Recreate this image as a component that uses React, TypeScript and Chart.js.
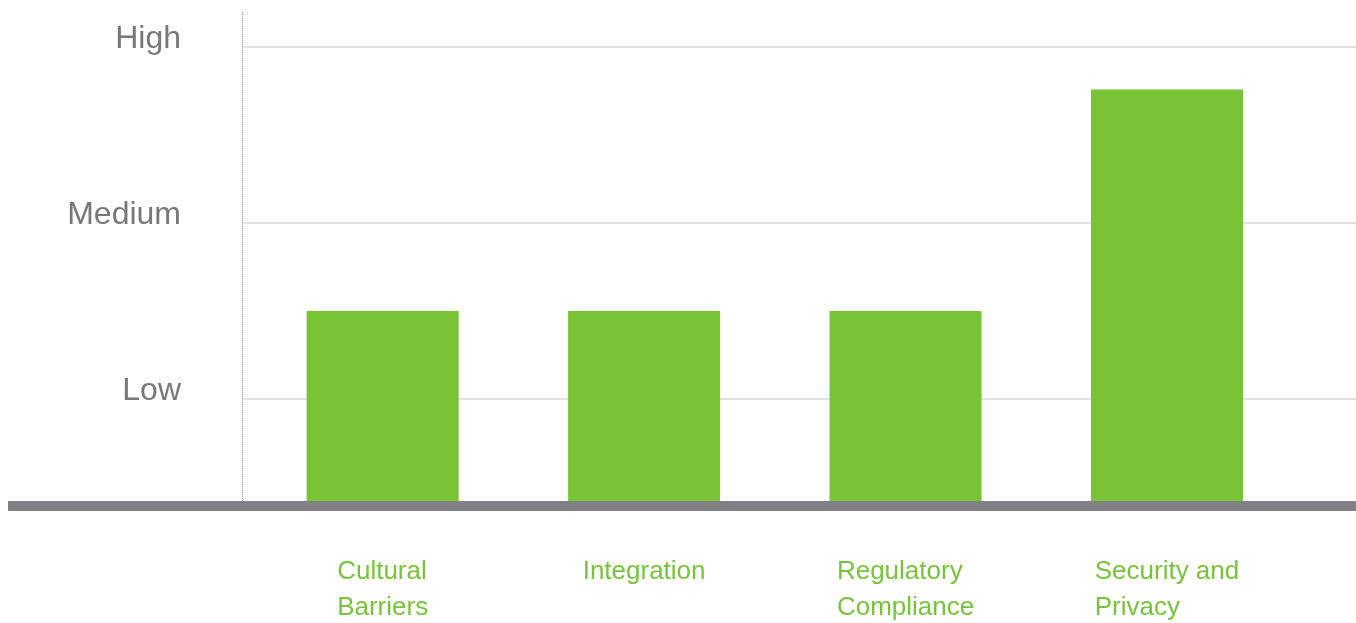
import React, { useEffect, useRef } from "react";
import { Chart, registerables } from "chart.js";

Chart.register(...registerables);

const categories: string[][] = [
  ["Cultural", "Barriers"],
  ["Integration"],
  ["Regulatory", "Compliance"],
  ["Security and", "Privacy"],
];
const values: number[] = [1.5, 1.5, 1.5, 2.76];
const yTickValues: number[] = [1, 2, 3];
const yTickLabels: string[] = ["Low", "Medium", "High"];

const FONT = "'Liberation Sans', Arial, Helvetica, sans-serif";
const GREEN = "#78c434";
const LABEL_GREEN = "#77c43a";

const decorPlugin = {
  id: "decor",
  beforeDatasetsDraw(chart: any) {
    const { ctx, chartArea } = chart;
    // dotted vertical axis line
    ctx.save();
    ctx.strokeStyle = "#9a9a9a";
    ctx.lineWidth = 1;
    ctx.setLineDash([1, 1]);
    ctx.beginPath();
    ctx.moveTo(Math.round(chartArea.left) + 0.5, chartArea.top);
    ctx.lineTo(Math.round(chartArea.left) + 0.5, chartArea.bottom);
    ctx.stroke();
    ctx.restore();
  },
  afterDatasetsDraw(chart: any) {
    const { ctx, chartArea } = chart;
    const xScale = chart.scales.x;
    ctx.save();
    // thick baseline
    ctx.fillStyle = "#818185";
    ctx.fillRect(0, chartArea.bottom, chart.width, 10);
    // category labels: block centred, lines left-aligned
    ctx.font = `26px ${FONT}`;
    ctx.fillStyle = LABEL_GREEN;
    ctx.textAlign = "left";
    ctx.textBaseline = "alphabetic";
    categories.forEach((lines, i) => {
      const cx = xScale.getPixelForValue(i);
      const w = Math.max(...lines.map((l) => ctx.measureText(l).width));
      const x0 = cx - w / 2;
      lines.forEach((line, j) => {
        ctx.fillText(line, x0, chartArea.bottom + 78 + j * 36);
      });
    });
    ctx.restore();
  },
};

export default function App() {
  const canvasRef = useRef<HTMLCanvasElement | null>(null);

  useEffect(() => {
    if (!canvasRef.current) return;
    const chart = new Chart(canvasRef.current, {
      type: "bar",
      data: {
        datasets: [
          {
            data: values.map((v, i) => ({ x: i, y: v })),
            backgroundColor: GREEN,
            borderWidth: 0,
            categoryPercentage: 1,
            barPercentage: 0.5815,
          },
        ],
      },
      plugins: [decorPlugin],
      options: {
        animation: false,
        responsive: true,
        maintainAspectRatio: false,
        layout: { padding: { top: 12, left: 0, right: 0, bottom: 0 } },
        plugins: {
          legend: { display: false },
          tooltip: { enabled: false },
        },
        scales: {
          x: {
            type: "linear",
            min: -0.538,
            max: 3.723,
            offset: false,
            grid: { display: false, offset: false },
            border: { display: false },
            ticks: { display: false },
            afterBuildTicks: (scale: any) => {
              scale.ticks = categories.map((_, i) => ({ value: i }));
            },
            afterFit: (scale: any) => {
              scale.height = 122;
              scale.paddingLeft = 0;
              scale.paddingRight = 0;
            },
          },
          y: {
            min: 0.42,
            max: 3.2,
            afterBuildTicks: (scale: any) => {
              scale.ticks = yTickValues.map((v) => ({ value: v }));
            },
            afterFit: (scale: any) => {
              scale.width = 234;
              scale.paddingTop = 0;
              scale.paddingBottom = 0;
            },
            grid: {
              color: "#e1e1e1",
              lineWidth: 2,
              drawTicks: false,
            },
            border: { display: false },
            ticks: {
              padding: 61,
              labelOffset: -8,
              color: "#77787b",
              font: { family: FONT, size: 32 },
              callback: (value: any) => {
                const idx = yTickValues.indexOf(Number(value));
                return idx >= 0 ? yTickLabels[idx] : "";
              },
            },
          },
        },
      },
    } as any);
    return () => chart.destroy();
  }, []);

  return (
    <div
      style={{
        position: "fixed",
        left: 8,
        top: 0,
        width: 1348,
        height: 623,
      }}
    >
      <canvas ref={canvasRef} style={{ display: "block" }} />
    </div>
  );
}
